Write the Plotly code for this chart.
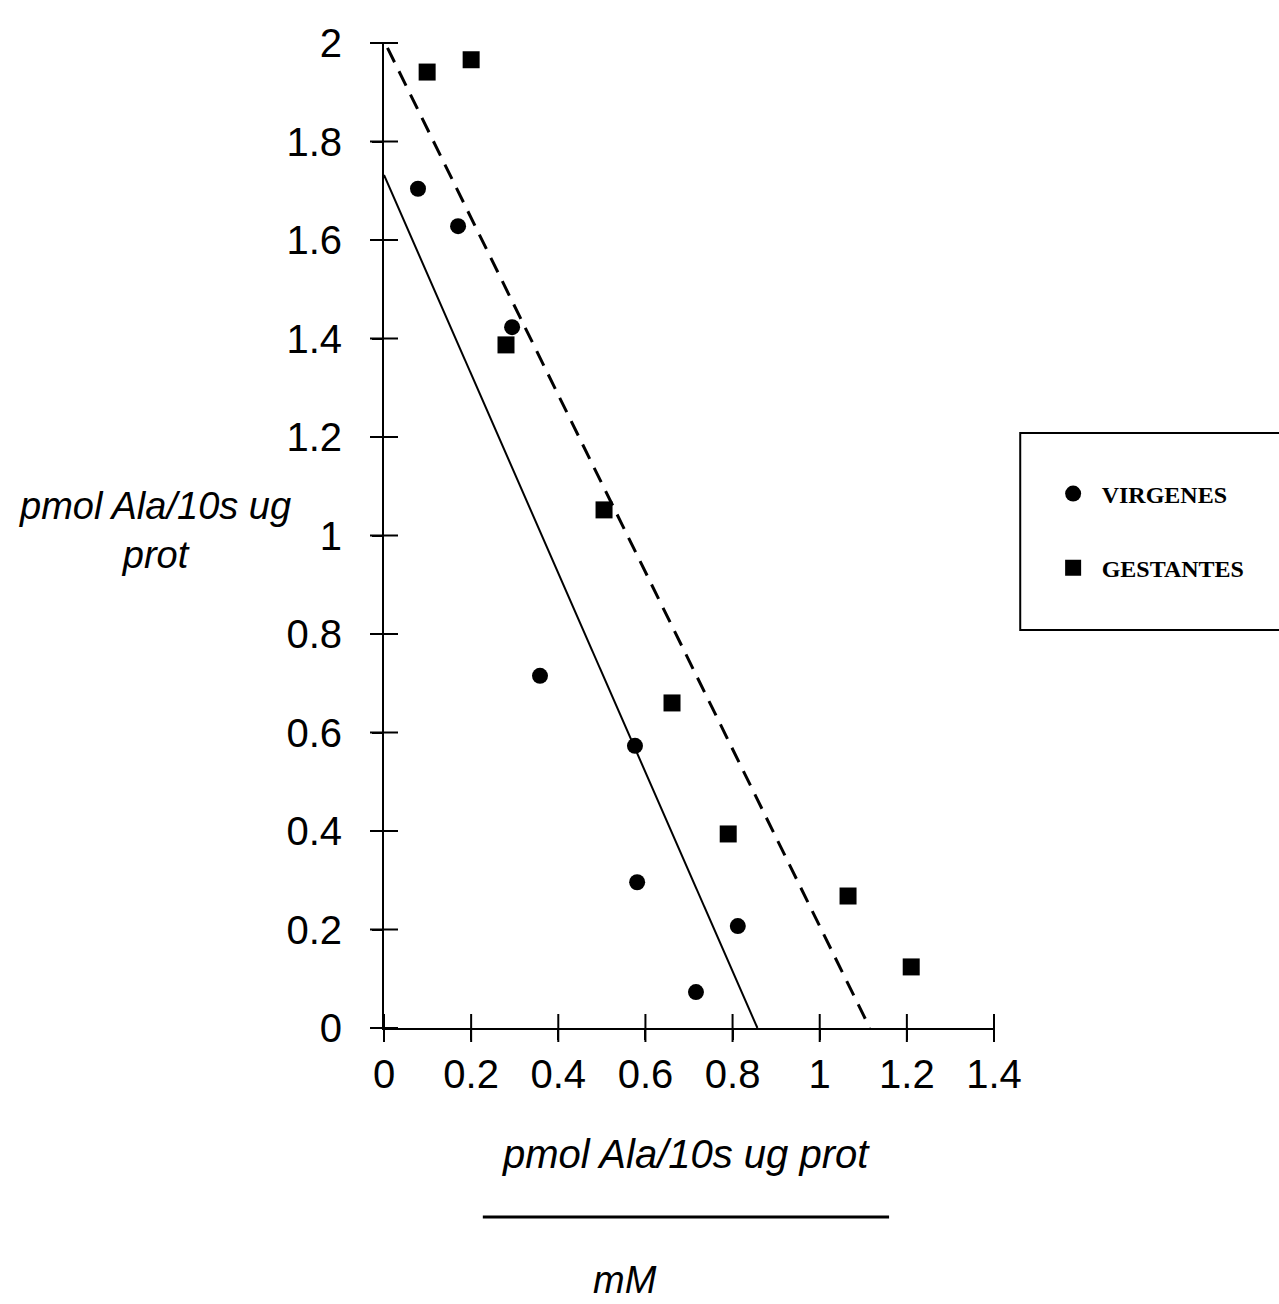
import plotly.graph_objects as go

# Data
virg_x = [0.078, 0.170, 0.294, 0.358, 0.576, 0.581, 0.716, 0.812]
virg_y = [1.704, 1.628, 1.423, 0.715, 0.573, 0.296, 0.073, 0.207]
gest_x = [0.099, 0.200, 0.280, 0.505, 0.661, 0.790, 1.065, 1.210]
gest_y = [1.941, 1.966, 1.387, 1.052, 0.660, 0.394, 0.268, 0.124]

# Fitted lines (end points)
virg_fit_x = [0.0, 0.857]
virg_fit_y = [1.732, 0.0]
gest_fit_x = [0.008, 1.115]
gest_fit_y = [1.99, 0.0]

x_ticks = [0, 0.2, 0.4, 0.6, 0.8, 1, 1.2, 1.4]
x_tick_text = ["0", "0.2", "0.4", "0.6", "0.8", "1", "1.2", "1.4"]
y_ticks = [0, 0.2, 0.4, 0.6, 0.8, 1, 1.2, 1.4, 1.6, 1.8, 2]
y_tick_text = ["0", "0.2", "0.4", "0.6", "0.8", "1", "1.2", "1.4", "1.6", "1.8", "2"]

names = ["VIRGENES", "GESTANTES"]

TICKFONT = dict(family="Liberation Sans Narrow, Liberation Sans, Arial, sans-serif", size=40, color="black")
TITLEFONT = "Liberation Sans Narrow, Liberation Sans, Arial, sans-serif"

fig = go.Figure()
fig.add_trace(go.Scatter(x=virg_fit_x, y=virg_fit_y, mode="lines",
                         line=dict(color="black", width=2), showlegend=False, hoverinfo="skip"))
fig.add_trace(go.Scatter(x=gest_fit_x, y=gest_fit_y, mode="lines",
                         line=dict(color="black", width=3, dash="16px,10px"), showlegend=False, hoverinfo="skip"))
fig.add_trace(go.Scatter(x=virg_x, y=virg_y, mode="markers", name=names[0], legendgroup="a",
                         marker=dict(symbol="circle", size=16, color="black")))
fig.add_trace(go.Scatter(x=gest_x, y=gest_y, mode="markers", name=names[1], legendgroup="b",
                         marker=dict(symbol="square", size=17, color="black")))

# crossing tick marks (both sides of each axis), placed at the tick values
fig.add_trace(go.Scatter(x=x_ticks, y=[0] * len(x_ticks), mode="markers", cliponaxis=False,
                         marker=dict(symbol="line-ns-open", size=20, color="black",
                                     line=dict(color="black", width=2)),
                         showlegend=False, hoverinfo="skip"))
fig.add_trace(go.Scatter(x=[0] * len(y_ticks), y=y_ticks, mode="markers", cliponaxis=False,
                         marker=dict(symbol="line-ew-open", size=20, color="black",
                                     line=dict(color="black", width=2)),
                         showlegend=False, hoverinfo="skip"))

axis_common = dict(showgrid=False, zeroline=False, showline=True, linecolor="black", linewidth=2,
                   ticks="outside", ticklen=10, tickwidth=2, tickcolor="black")

fig.update_layout(
    width=1279, height=1304,
    margin=dict(l=384, r=285, t=43, b=276),
    paper_bgcolor="white", plot_bgcolor="white",
    xaxis=dict(range=[0, 1.4], tickvals=x_ticks, ticktext=x_tick_text, tickfont=TICKFONT,
               ticklabelstandoff=0, **axis_common),
    yaxis=dict(range=[0, 2], tickvals=y_ticks, ticktext=y_tick_text, tickfont=TICKFONT,
               ticklabelstandoff=22, **axis_common),
    showlegend=True,
    legend=dict(x=1.083, y=0.565, xanchor="left", yanchor="top", bgcolor="rgba(0,0,0,0)",
                borderwidth=0, tracegroupgap=40, itemwidth=47,
                font=dict(family="Liberation Serif, DejaVu Serif, serif", size=24, color="black",
                          weight="bold")),
)

# legend frame
fig.add_shape(type="rect", xref="paper", yref="paper", x0=1.043, x1=1.5, y0=0.404, y1=0.604,
              line=dict(color="black", width=2), fillcolor="rgba(0,0,0,0)")

# y-axis title
fig.add_annotation(xref="paper", yref="paper", x=-0.375, y=0.505, xanchor="center", yanchor="middle",
                   text="<i>pmol Ala/10s ug</i><br><i>prot</i>", showarrow=False, align="center",
                   font=dict(family=TITLEFONT, size=38, color="black"))
# x-axis title as a fraction
fig.add_annotation(xref="paper", yref="paper", x=0.495, y=-0.128, xanchor="center", yanchor="middle",
                   text="<i>pmol Ala/10s ug prot</i>", showarrow=False,
                   font=dict(family=TITLEFONT, size=40, color="black"))
fig.add_shape(type="line", xref="paper", yref="paper", x0=0.162, x1=0.828, y0=-0.192, y1=-0.192,
              line=dict(color="black", width=3))
fig.add_annotation(xref="paper", yref="paper", x=0.395, y=-0.256, xanchor="center", yanchor="middle",
                   text="<i>mM</i>", showarrow=False,
                   font=dict(family=TITLEFONT, size=38, color="black"))

fig.write_html("out.html")
